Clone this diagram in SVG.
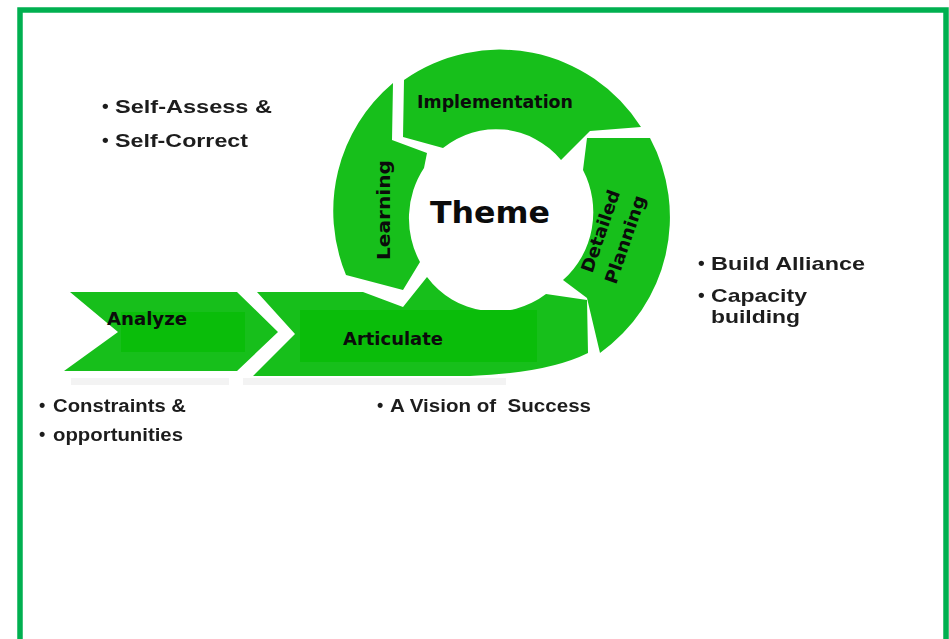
<svg xmlns="http://www.w3.org/2000/svg" width="949" height="639" viewBox="0 0 949 639">
  <style>
    .arrow { fill: #17bf1b; }
    .box { fill: #0abd0a; }
    .lbl { font-family: "DejaVu Sans", Verdana, sans-serif; font-weight: bold; fill: #0b0b0b; font-size: 17.5px; }
    .note { font-family: "Liberation Sans", Arial, sans-serif; font-weight: bold; fill: #1e1e1e; font-size: 19px; }
    .shade { fill: #f3f3f3; }
  </style>
  <defs>
    <filter id="soft" x="-5%" y="-20%" width="110%" height="140%">
      <feGaussianBlur stdDeviation="0.45"/>
    </filter>
  </defs>

  <!-- page and frame -->
  <rect width="949" height="639" fill="#ffffff"/>
  <rect x="20" y="10" width="926" height="700" fill="none" stroke="#00b050" stroke-width="5.5"/>

  <!-- faint shadows under the horizontal arrows -->
  <rect class="shade" x="71" y="378" width="158" height="7"/>
  <rect class="shade" x="243" y="378" width="263" height="7"/>

  <!-- step 1: Analyze (chevron) -->
  <g id="analyze">
    <path class="arrow" d="M70,292 L237,292 L278,332 L237,371 L64,371 L118,332 Z"/>
    <rect class="box" x="121" y="312" width="124" height="40"/>
    <text class="lbl" x="147" y="325" text-anchor="middle" textLength="80" lengthAdjust="spacingAndGlyphs">Analyze</text>
  </g>

  <!-- step 2: Articulate (band that curls into the ring) -->
  <g id="articulate">
    <path class="arrow" d="M257,292 L363,292 L403,307 L427,277 A86,89 0 0 0 546,294 L587,300 L588,353 Q548,373 470,376 L253,376 L295,334 Z"/>
    <rect class="box" x="300" y="310" width="237" height="52"/>
    <text class="lbl" x="393" y="345" text-anchor="middle" textLength="100" lengthAdjust="spacingAndGlyphs">Articulate</text>
  </g>

  <!-- ring segment: Learning (left side) -->
  <g id="learning">
    <path class="arrow" d="M393,83 A167,167 0 0 0 346,275 L403,290 L420,262 A86,89 0 0 1 424,168 L427,153 L392,140 Z"/>
    <text class="lbl" x="390" y="210" text-anchor="middle" transform="rotate(-90 390 210)" textLength="100" lengthAdjust="spacingAndGlyphs">Learning</text>
  </g>

  <!-- ring segment: Implementation (top) -->
  <g id="implementation">
    <path class="arrow" d="M404,80 A167,167 0 0 1 641,127 L590,131 L568,153 L561,160 A86,89 0 0 0 443,148 L403,137 Z"/>
    <text class="lbl" x="495" y="108" text-anchor="middle" textLength="156" lengthAdjust="spacingAndGlyphs">Implementation</text>
  </g>

  <!-- ring segment: Detailed Planning (right side) -->
  <g id="detailed-planning">
    <path class="arrow" d="M650,138 A167,167 0 0 1 600,353 L587,298 L563,280 A86,89 0 0 0 583,170 L587,138 Z"/>
    <g transform="translate(612,235) rotate(-71)">
      <text class="lbl" x="0" y="-6" text-anchor="middle" textLength="86" lengthAdjust="spacingAndGlyphs">Detailed</text>
      <text class="lbl" x="0" y="20" text-anchor="middle" textLength="92" lengthAdjust="spacingAndGlyphs">Planning</text>
    </g>
  </g>

  <!-- centre label -->
  <g id="theme">
    <text class="lbl" x="490" y="223" text-anchor="middle" style="font-size:29.5px" textLength="120" lengthAdjust="spacingAndGlyphs">Theme</text>
  </g>

  <!-- bullet notes -->
  <g id="notes" filter="url(#soft)">
    <g id="note-self">
      <text class="note" x="102" y="112">•</text>
      <text class="note" x="115" y="113" textLength="157" lengthAdjust="spacingAndGlyphs">Self-Assess &amp;</text>
      <text class="note" x="102" y="146">•</text>
      <text class="note" x="115" y="147" textLength="133" lengthAdjust="spacingAndGlyphs">Self-Correct</text>
    </g>
    <g id="note-constraints">
      <text class="note" x="39" y="411" style="font-size:18px">•</text>
      <text class="note" x="53" y="412" style="font-size:18px" textLength="133" lengthAdjust="spacingAndGlyphs">Constraints &amp;</text>
      <text class="note" x="39" y="440" style="font-size:18px">•</text>
      <text class="note" x="53" y="441" style="font-size:18px" textLength="130" lengthAdjust="spacingAndGlyphs">opportunities</text>
    </g>
    <g id="note-vision">
      <text class="note" x="377" y="411" style="font-size:18px">•</text>
      <text class="note" x="390" y="412" style="font-size:18px" textLength="201" lengthAdjust="spacingAndGlyphs" xml:space="preserve">A Vision of  Success</text>
    </g>
    <g id="note-alliance">
      <text class="note" x="698" y="269">•</text>
      <text class="note" x="711" y="270" textLength="154" lengthAdjust="spacingAndGlyphs">Build Alliance</text>
      <text class="note" x="698" y="301">•</text>
      <text class="note" x="711" y="302" textLength="96" lengthAdjust="spacingAndGlyphs">Capacity</text>
      <text class="note" x="711" y="323" textLength="89" lengthAdjust="spacingAndGlyphs">building</text>
    </g>
  </g>
</svg>
